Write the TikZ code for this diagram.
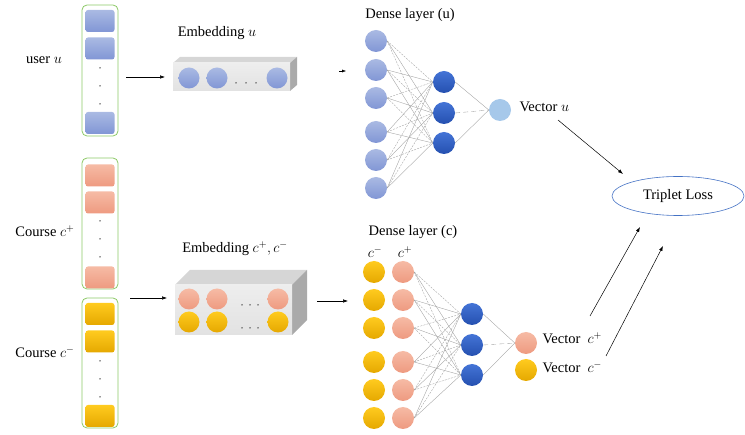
\documentclass[tikz,border=0pt]{standalone}
\usepackage{fontspec}
\setmainfont{Liberation Serif}
\usetikzlibrary{arrows.meta,shapes.geometric}
\definecolor{bsqT}{HTML}{AABAE3}
\definecolor{bsqB}{HTML}{8196D5}
\definecolor{psqT}{HTML}{F6BBA5}
\definecolor{psqB}{HTML}{EE9A80}
\definecolor{ysqT}{HTML}{FFCB1F}
\definecolor{ysqB}{HTML}{E5A800}
\definecolor{greenb}{HTML}{8CC866}
\definecolor{hidT}{HTML}{4474D6}
\definecolor{hidB}{HTML}{2550B0}
\definecolor{outu}{HTML}{A6C8EA}
\definecolor{lossb}{HTML}{4472C4}
\definecolor{frontg}{HTML}{E2E2E2}
\definecolor{topg}{HTML}{D6D6D6}
\definecolor{sideg}{HTML}{AAAAAA}
\begin{document}
\begin{tikzpicture}[x=1pt,y=-1pt,font=\fontsize{14.5}{17}\selectfont,
  sq/.style={rectangle,rounded corners=2.5pt,minimum width=29pt,minimum height=22pt,inner sep=0pt},
  usq/.style={sq,top color=bsqT,bottom color=bsqB},
  psq/.style={sq,top color=psqT,bottom color=psqB},
  ysq/.style={sq,top color=ysqT,bottom color=ysqB},
  colbox/.style={draw=greenb,rounded corners=5pt,line width=0.8pt,minimum width=36pt,inner sep=0pt},
  nd/.style={circle,minimum size=22pt,inner sep=0pt},
  ucirc/.style={nd,top color=bsqT,bottom color=bsqB},
  hcirc/.style={nd,top color=hidT,bottom color=hidB},
  pcirc/.style={nd,top color=psqT,bottom color=psqB},
  ycirc/.style={nd,top color=ysqT,bottom color=ysqB},
  ocirc/.style={nd,fill=outu},
  edge/.style={gray!75,line width=0.35pt},
  arr/.style={-{Latex[length=5pt,width=3.5pt]},line width=0.5pt},
  dotm/.style={circle,fill=black!80,inner sep=0pt,minimum size=1.5pt}]
\useasboundingbox (0,0) rectangle (745,435);

% ---------- user column ----------
\node[colbox,minimum height=131pt] (ubox) at (100,70.5) {};
\node[usq] (us1) at (100,21) {};
\node[usq] (us2) at (100,48.5) {};
\node[usq] (us3) at (100,123) {};
\foreach \y/\n in {68/a,86/b,104/c} \node[dotm] (ud\n) at (100,\y) {};
\node (ulab) at (44,60) {user $u$};

% ---------- course columns ----------
\node[colbox,minimum height=131pt] (cpbox) at (100,223.5) {};
\node[psq] (cp1) at (100,175.5) {};
\node[psq] (cp2) at (100,202.5) {};
\node[psq] (cp3) at (100,277.5) {};
\foreach \y/\n in {221/a,239/b,257/c} \node[dotm] (cpd\n) at (100,\y) {};
\node (cplab) at (45,231) {Course $c^{+}$};

\node[colbox,minimum height=130pt] (cmbox) at (100,363) {};
\node[ysq] (cm1) at (100,314) {};
\node[ysq] (cm2) at (100,341.5) {};
\node[ysq] (cm3) at (100,416) {};
\foreach \y/\n in {361/a,379/b,397/c} \node[dotm] (cmd\n) at (100,\y) {};
\node (cmlab) at (45,352) {Course $c^{-}$};

% ---------- embedding u ----------
\fill[topg] (173,63) -- (180,57) -- (297,57) -- (290,63) -- cycle;
\fill[sideg] (290,63) -- (297,57) -- (297,85) -- (290,91) -- cycle;
\shade[top color=frontg!60!white,bottom color=frontg] (173,63) rectangle (290,91);
\node[ucirc,minimum size=21pt] (eu1) at (189,78) {};
\node[ucirc,minimum size=21pt] (eu2) at (217,78) {};
\node[ucirc,minimum size=21pt] (eu3) at (277,78) {};
\foreach \x/\n in {236/a,246/b,256/c} \node[dotm] (eud\n) at (\x,83) {};
\node (eulab) at (217,33) {Embedding $u$};

% ---------- embedding c ----------
\fill[topg] (175,285) -- (190,270) -- (307,270) -- (292,285) -- cycle;
\fill[sideg] (292,285) -- (307,270) -- (307,320) -- (292,335) -- cycle;
\shade[top color=frontg!60!white,bottom color=frontg] (175,285) rectangle (292,335);
\node[pcirc,minimum size=21pt] (ec1) at (189,299) {};
\node[pcirc,minimum size=21pt] (ec2) at (217,299) {};
\node[pcirc,minimum size=21pt] (ec3) at (278,299) {};
\node[ycirc,minimum size=21pt] (ec4) at (189,322) {};
\node[ycirc,minimum size=21pt] (ec5) at (217,322) {};
\node[ycirc,minimum size=21pt] (ec6) at (278,322) {};
\foreach \x/\n in {242/a,250/b,258/c} {
  \node[dotm] (ecda\n) at (\x,305) {};
  \node[dotm] (ecdb\n) at (\x,328) {};
}
\node (eclab) at (235,249) {Embedding $c^{+},c^{-}$};

% ---------- dense layer u ----------
\node (dulab) at (410,15) {Dense layer (u)};
\foreach \y [count=\i] in {41,70,98,132,160,188} \node[ucirc] (ui\i) at (376,\y) {};
\foreach \y [count=\j] in {82,113,143} \node[hcirc] (uh\j) at (444,\y) {};
\node[ocirc] (uo) at (500,110) {};
\foreach \i in {1,...,6}{\foreach \j in {1,2,3}{
  \pgfmathtruncatemacro\k{mod(\i+\j,2)}
  \ifnum\k=0 \draw[edge,dash pattern=on 2pt off 1.2pt] (ui\i.east) -- (uh\j.west);
  \else \draw[edge] (ui\i.east) -- (uh\j.west); \fi}}
\draw[edge] (uh1.east) -- (uo.west);
\draw[edge,dash pattern=on 5pt off 3pt] (uh2.east) -- (uo.west);
\draw[edge] (uh3.east) -- (uo.west);
\node[anchor=west] (uvec) at (516,107) {Vector $u$};

% ---------- dense layer c ----------
\node (dclab) at (413,232) {Dense layer (c)};
\node (cmhead) at (375,252) {$c^{-}$};
\node (cphead) at (405,252) {$c^{+}$};
\foreach \y [count=\i] in {272,300,328,362,390,418} {
  \node[ycirc] (cy\i) at (374,\y) {};
  \node[pcirc] (ci\i) at (403,\y) {};
}
\foreach \y [count=\j] in {314,345,375} \node[hcirc] (ch\j) at (472,\y) {};
\node[pcirc] (cop) at (526,343) {};
\node[ycirc] (com) at (526,370) {};
\foreach \i in {1,...,6}{\foreach \j in {1,2,3}{
  \pgfmathtruncatemacro\k{mod(\i+\j,2)}
  \ifnum\k=0 \draw[edge,dash pattern=on 2pt off 1.2pt] (ci\i.east) -- (ch\j.west);
  \else \draw[edge] (ci\i.east) -- (ch\j.west); \fi}}
\draw[edge] (ch1.east) -- (cop.west);
\draw[edge,dash pattern=on 5pt off 3pt] (ch2.east) -- (cop.west);
\draw[edge] (ch3.east) -- (cop.west);
\node[anchor=west] (cpvec) at (539,338) {Vector\ \ $c^{+}$};
\node[anchor=west] (cmvec) at (539,367) {Vector\ \ $c^{-}$};

% ---------- triplet loss ----------
\node[ellipse,draw=lossb,line width=0.6pt,minimum width=132pt,minimum height=39pt,inner sep=0pt] (loss) at (678,196) {Triplet Loss};

% ---------- arrows ----------
\coordinate (a1s) at (126,77);  \coordinate (a1e) at (165,77);
\coordinate (a2s) at (130,298); \coordinate (a2e) at (167,298);
\coordinate (a3s) at (317,301); \coordinate (a3e) at (348,301);
\coordinate (a4s) at (339,71);  \coordinate (a4e) at (346,71);
\coordinate (a5s) at (558,120); \coordinate (a5e) at (623,174);
\coordinate (a6s) at (590,316); \coordinate (a6e) at (640,227);
\coordinate (a7s) at (606,356); \coordinate (a7e) at (663,246);
\draw[arr] (a1s) -- (a1e);
\draw[arr] (a2s) -- (a2e);
\draw[arr] (a3s) -- (a3e);
\draw[-{Latex[length=4pt,width=3pt]},line width=0.4pt] (a4s) -- (a4e);
\draw[arr] (a5s) -- (a5e);
\draw[arr] (a6s) -- (a6e);
\draw[arr] (a7s) -- (a7e);
\end{tikzpicture}
\end{document}
